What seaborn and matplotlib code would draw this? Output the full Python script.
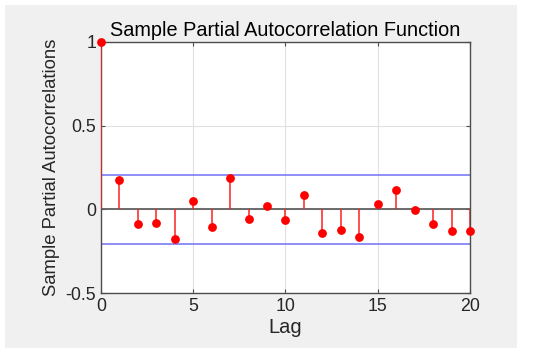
import numpy as np
import pandas as pd
import matplotlib
matplotlib.use("Agg")
import matplotlib.pyplot as plt
import seaborn as sns
from matplotlib.patches import Rectangle

# PACF values
lags = list(range(21))
pacf = [1.0, 0.178, -0.089, -0.079, -0.178, 0.047, -0.106, 0.188, -0.059, 0.017,
        -0.063, 0.085, -0.142, -0.122, -0.166, 0.033, 0.115, -0.005, -0.085, -0.127,
        -0.132]
bound = 0.205

sns.set_style("white")
plt.rcParams['font.family'] = ['Liberation Sans', 'DejaVu Sans']

df = pd.DataFrame({"Lag": lags, "PACF": pacf})

fig = plt.figure(figsize=(5.5, 3.55), dpi=100, facecolor="white")
fig.patches.append(Rectangle((5 / 550, 7 / 355), 512 / 550, 343 / 355,
                             transform=fig.transFigure, facecolor="#f0f0f0",
                             edgecolor="none", zorder=-10))
ax = fig.add_axes([0.1836, 0.1746, 0.6709, 0.7071])
ax.set_facecolor("white")

# stems and zero line
ax.vlines(df["Lag"], 0, df["PACF"], color="#ff2020", lw=1.1, zorder=3)
ax.axhline(0, color="#606060", lw=1.3, zorder=2)
sns.scatterplot(data=df, x="Lag", y="PACF", ax=ax, color="red", s=40,
                edgecolor="red", linewidth=0, zorder=4, clip_on=False)

# confidence bounds
ax.axhline(bound, color="#7070f5", lw=1.1, zorder=2)
ax.axhline(-bound, color="#7070f5", lw=1.1, zorder=2)

ax.set_xlim(0, 20)
ax.set_ylim(-0.5, 1)
ax.set_xticks([0, 5, 10, 15, 20])
ax.set_yticks([-0.5, 0, 0.5, 1])
ax.set_yticklabels(["-0.5", "0", "0.5", "1"])
ax.grid(True, color="#e0e0e0", lw=0.8)
ax.set_axisbelow(True)
for s in ax.spines.values():
    s.set_color("#4d4d4d")
    s.set_linewidth(1.0)
ax.tick_params(direction="in", length=3, color="#4d4d4d", labelsize=12.8,
               labelcolor="#262626", top=True, right=True, bottom=True, left=True)
ax.set_xlabel("Lag", fontsize=14.5, color="#262626", labelpad=2)
ax.set_ylabel("Sample Partial Autocorrelations", fontsize=13.3, color="#262626", labelpad=4)
ax.set_title("Sample Partial Autocorrelation Function", fontsize=14.3, color="black", pad=4)

fig.savefig("out.png", dpi=100)
